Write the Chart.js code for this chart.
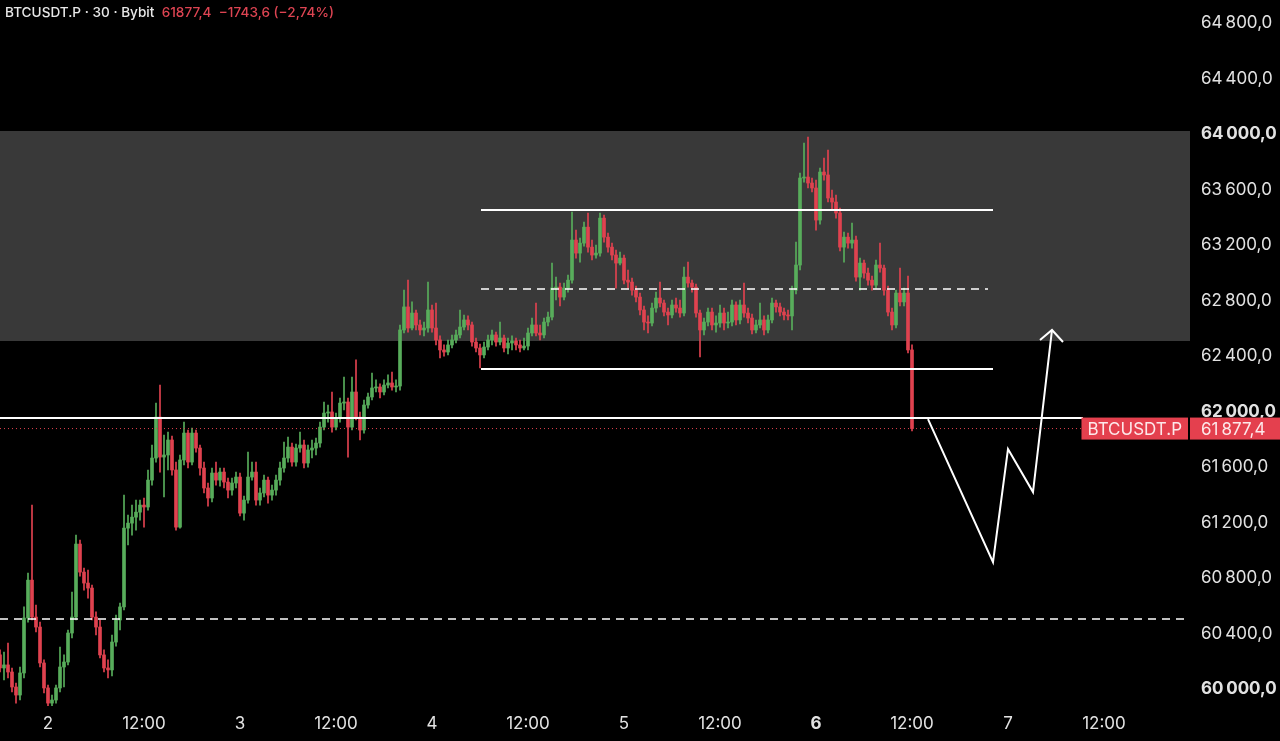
<!DOCTYPE html>
<html><head><meta charset="utf-8">
<script src="https://cdn.jsdelivr.net/npm/chart.js@4.4.1/dist/chart.umd.min.js"></script>
<style>
html,body{margin:0;padding:0;background:#000;overflow:hidden;}
#wrap{position:relative;width:1280px;height:741px;}
#hdr{position:absolute;left:5px;top:4px;font:500 13.6px Inter, "DejaVu Sans", sans-serif;color:#e8e8e8;white-space:pre;}
#hdr .r{color:#dd4452;}
</style></head><body>
<div id="wrap"><canvas id="c" width="1280" height="741"></canvas>
<div id="hdr">BTCUSDT.P · 30 · Bybit  <span class="r">61877,4  −1743,6 (−2,74%)</span></div></div>
<script>
// ---- data (30-minute candles; slot 0 = day 2, 00:00) ----
const symbol = 'BTCUSDT.P';
const firstSlot = -12;
const open = [
60246,60152,60174,60123,60015,59957,60116,60512,60785,60519,
60447,60188,60008,59899,59921,60008,60159,60195,60404,60519,
61045,60843,60764,60728,60519,60447,60246,60152,60138,60339,
60498,60592,61160,61196,61239,61275,61326,61312,61506,61665,
61960,61672,61687,61795,61579,61167,61651,61845,61636,61845,
61737,61593,61449,61377,61557,61506,61564,61492,61434,61485,
61528,61268,61362,61528,61564,61362,61413,61506,61398,61434,
61506,61593,61665,61744,61636,61737,61759,61629,61723,61737,
61773,61888,61989,61997,61888,61953,62061,62069,61888,62141,
61960,61867,62047,62105,62170,62177,62141,62191,62206,62177,
62184,62588,62754,62602,62710,62624,62588,62602,62732,62602,
62516,62444,62429,62480,62516,62552,62609,62660,62624,62501,
62458,62408,62465,62516,62552,62501,62530,62458,62494,62509,
62480,62458,62472,62566,62624,62566,62552,62645,62681,62890,
62897,62825,62890,62947,63236,63142,63214,63329,63185,63128,
63142,63394,63257,63185,63128,63070,63106,62947,62933,62875,
62825,62732,62645,62638,62746,62818,62782,62717,62696,62768,
62746,62710,62969,62926,62897,62710,62588,62645,62717,62624,
62638,62710,62638,62645,62768,62660,62768,62710,62674,62588,
62624,62660,62588,62660,62782,62754,62717,62696,62689,62875,
63056,63683,63690,63647,63611,63380,63726,63705,63539,63510,
63431,63185,63257,63214,63236,62969,63070,62998,62947,62911,
63056,63034,62875,62717,62624,62854,62790,62854,62444];
const high = [
60282,60267,60332,60152,60044,60159,60592,60836,61326,60606,
60483,60210,60029,59957,60029,60303,60246,60426,60699,61110,
61074,60872,60858,60749,60556,60498,60282,60210,60390,60534,
60620,61398,61254,61326,61362,61362,61377,61579,61759,62061,
62191,61831,61852,61824,61636,61687,61924,61867,61881,61867,
61759,61636,61485,61593,61636,61593,61593,61521,61521,61564,
61557,61391,61708,61636,61636,61449,61542,61528,61470,61542,
61636,61780,61816,61773,61766,61852,61795,61759,61795,61809,
61924,62069,62047,62141,61989,62098,62249,62098,62249,62372,
61997,62083,62134,62278,62228,62199,62228,62264,62285,62228,
62624,62875,62947,62790,62732,62660,62645,62933,62768,62782,
62545,62480,62516,62552,62588,62732,62696,62689,62645,62530,
62487,62501,62552,62588,62573,62645,62552,62530,62545,62530,
62516,62530,62602,62674,62782,62624,62674,62717,63070,62969,
62926,62926,62984,63438,63308,63250,63365,63430,63236,63200,
63430,63416,63286,63214,63164,63149,63128,63020,62962,62904,
62854,62761,62689,62782,62861,62933,62804,62746,62804,62818,
62804,63041,63077,62947,62919,62732,62674,62746,62746,62689,
62768,62746,62717,62804,62790,62804,62926,62746,62703,62660,
62782,62689,62696,62818,62804,62782,62746,62732,62904,63221,
63719,63935,63978,63683,63668,63755,63827,63885,63596,63560,
63466,63293,63286,63358,63265,63106,63092,63034,62976,63092,
63214,63056,62904,62746,62875,63034,62890,62976,62480];
const low = [
60123,60066,60080,59979,59899,59921,60080,60483,60498,60411,
60159,59972,59878,59878,59899,59979,60015,60174,60368,60498,
60814,60713,60656,60498,60390,60224,60123,60080,60094,60310,
60426,60570,61038,61110,61146,61218,61167,61290,61470,61636,
61564,61384,61579,61542,61146,61160,61615,61593,61615,61708,
61542,61413,61319,61348,61470,61463,61449,61377,61398,61449,
61247,61218,61340,61506,61326,61326,61384,61340,61362,61398,
61470,61564,61636,61607,61607,61708,61593,61600,61665,61687,
61744,61867,61924,61852,61867,61924,62011,61672,61867,61939,
61795,61845,62025,62083,62141,62098,62119,62170,62155,62141,
62155,62566,62573,62588,62588,62552,62545,62573,62573,62480,
62386,62400,62408,62458,62494,62530,62588,62588,62472,62429,
62314,62386,62444,62480,62472,62480,62429,62415,62444,62444,
62429,62444,62444,62545,62545,62516,62530,62617,62660,62804,
62761,62804,62861,62926,63106,63077,63192,63149,63092,63106,
63120,63221,63149,63092,62890,63056,62919,62890,62839,62790,
62696,62588,62566,62617,62717,62754,62689,62624,62674,62717,
62681,62689,62897,62861,62681,62393,62552,62617,62588,62573,
62609,62588,62602,62617,62624,62631,62681,62638,62559,62566,
62602,62552,62566,62638,62717,62689,62660,62660,62588,62847,
63020,63654,63611,63582,63308,63351,63668,63510,63452,63394,
63157,63077,63178,63178,62940,62875,62962,62911,62875,62890,
63005,62839,62689,62588,62602,62761,62761,62422,61860];
const close = [
60152,60174,60123,60015,59957,60116,60512,60785,60519,60447,
60188,60008,59899,59921,60008,60159,60195,60404,60519,61045,
60843,60764,60728,60519,60447,60246,60152,60138,60339,60498,
60592,61160,61196,61239,61275,61326,61312,61506,61665,61960,
61672,61687,61795,61579,61167,61651,61845,61636,61845,61737,
61593,61449,61377,61557,61506,61564,61492,61434,61485,61528,
61268,61362,61528,61564,61362,61413,61506,61398,61434,61506,
61593,61665,61744,61636,61737,61759,61629,61723,61737,61773,
61888,61989,61997,61888,61953,62061,62069,61888,62141,61960,
61867,62047,62105,62170,62177,62141,62191,62206,62177,62184,
62588,62754,62602,62710,62624,62588,62602,62732,62602,62516,
62444,62429,62480,62516,62552,62609,62660,62624,62501,62458,
62408,62465,62516,62552,62501,62530,62458,62494,62509,62480,
62458,62472,62566,62624,62566,62552,62645,62681,62890,62897,
62825,62890,62947,63236,63142,63214,63329,63185,63128,63142,
63394,63257,63185,63128,63070,63106,62947,62933,62875,62825,
62732,62645,62638,62746,62818,62782,62717,62696,62768,62746,
62710,62969,62926,62897,62710,62588,62645,62717,62624,62638,
62710,62638,62645,62768,62660,62768,62710,62674,62588,62624,
62660,62588,62660,62782,62754,62717,62696,62689,62875,63056,
63683,63690,63647,63611,63380,63726,63705,63539,63510,63431,
63185,63257,63214,63236,62969,63070,62998,62947,62911,63056,
63034,62875,62717,62624,62854,62790,62854,62444,61877.4];

// axis ticks (price) and time ticks (slot numbers)
const priceTicks = [60000,60400,60800,61200,61600,62000,62400,62800,63200,63600,64000,64400,64800];
const timeTicks = [0,24,48,72,96,120,144,168,192,216,240,264];
const timeLabels = ['2','12:00','3','12:00','4','12:00','5','12:00','6','12:00','7','12:00'];
const boldTime = ['6'];

// drawings: [slot, price]
const zoneTop = 64022, zoneBottom = 62509;
const rangeTop = [[108.25,63452],[236.25,63452]];
const rangeMid = [[108.25,62883],[235,62883]];
const rangeBottom = [[108.25,62307],[236.25,62307]];
const levelLine = [[-12,61953],[258.75,61953]];
const lowerDashed = [[-12,60505],[285.5,60505]];
const pathPoints = [[220,61946],[236.25,60915],[240,61730],[246.25,61420],[251,62588]];
const arrowHead = [[248,62516],[251,62588],[253.75,62501]];
const lastPrice = 61877.4;

const xMin = -12, xMax = 285.5, yMin = 59878, yMax = 64966;
const UP = '#58ad5b', DOWN = '#e0424f';
const FONT = 'Inter, "DejaVu Sans", sans-serif';

const slots = close.map((_, i) => firstSlot + i);
const cols = close.map((c, i) => c >= open[i] ? UP : DOWN);
const pts = a => a.map(p => ({x: p[0], y: p[1]}));
function fmtPrice(v){
  const neg = v < 0; v = Math.abs(v);
  const k = Math.floor(v/1000), r = v - k*1000;
  const rs = r.toFixed(1).replace('.', ',');
  return (neg?'−':'') + (k ? k + '\u2009' + rs.padStart(5,'0') : rs);
}
function lineDs(data, opts){
  return Object.assign({type:'line', data: pts(data), borderColor:'#ffffff', borderWidth:2,
    pointRadius:0, fill:false, tension:0, order:1, clip:false}, opts||{});
}
function noPad(s){ s.paddingTop = 0; s.paddingBottom = 0; s.paddingLeft = 0; s.paddingRight = 0; }

const tagPlugin = {
  id: 'tag',
  afterDraw(chart){
    const {ctx, chartArea} = chart; const y = chart.scales.y;
    const py = y.getPixelForValue(lastPrice);
    ctx.save();
    ctx.font = '17px ' + FONT;
    const w = ctx.measureText(symbol).width + 12;
    const h = 22;
    ctx.fillStyle = '#e4404e';
    ctx.fillRect(chartArea.right - 2 - w, py - h/2, w, h);
    ctx.fillRect(chartArea.right, py - h/2, chart.width - chartArea.right, h);
    ctx.fillStyle = '#fde8ea';
    ctx.textBaseline = 'middle';
    ctx.textAlign = 'center';
    ctx.fillText(symbol, chartArea.right - 2 - w/2, py + 1);
    ctx.textAlign = 'left';
    ctx.fillText(fmtPrice(lastPrice), chartArea.right + 11, py + 1);
    ctx.restore();
  }
};

new Chart(document.getElementById('c'), {
  type: 'bar',
  data: {
    datasets: [
      {type:'line', data: pts([[xMin,zoneTop],[xMax,zoneTop]]), borderWidth:0, pointRadius:0,
        fill:{value: zoneBottom}, backgroundColor:'#393939', order:10},
      {label:'wick', data: slots.map((s,i)=>({x:s, y:[low[i], high[i]]})), backgroundColor: cols,
        barThickness:1, grouped:false, order:6},
      {label:'body', data: slots.map((s,i)=>({x:s, y:[open[i], close[i]]})), backgroundColor: cols,
        barThickness:3, minBarLength:1, grouped:false, order:5},
      lineDs([[xMin,lastPrice],[258.75,lastPrice]], {borderColor:'#e0424f', borderWidth:1, borderDash:[1,3], order:3}),
      lineDs(lowerDashed, {borderWidth:1.5, borderDash:[8,6]}),
      lineDs(levelLine),
      lineDs(rangeTop),
      lineDs(rangeMid, {borderWidth:1.5, borderDash:[8,6]}),
      lineDs(rangeBottom),
      lineDs(pathPoints),
      lineDs(arrowHead)
    ]
  },
  options: {
    responsive:false, animation:false,
    layout:{padding:0},
    plugins:{legend:{display:false}, tooltip:{enabled:false}},
    scales:{
      x:{type:'linear', min:xMin, max:xMax, offset:false,
        grid:{display:false, drawTicks:false}, border:{display:false},
        afterBuildTicks: s => { s.ticks = timeTicks.map(v=>({value:v})); },
        afterFit: s => { s.height = 35; noPad(s); },
        ticks:{autoSkip:false, maxRotation:0, padding:8, color:'#e2e2e2',
          callback: (v, i) => timeLabels[timeTicks.indexOf(v)],
          font: ctx => ({family:FONT, size:17, weight: (ctx.tick && boldTime.includes(timeLabels[timeTicks.indexOf(ctx.tick.value)])) ? 'bold':'normal'})}
      },
      y:{type:'linear', position:'right', min:yMin, max:yMax,
        grid:{display:false, drawTicks:false}, border:{display:false},
        afterBuildTicks: s => { s.ticks = priceTicks.map(v=>({value:v})); },
        afterFit: s => { s.width = 90; noPad(s); },
        ticks:{padding:11, color:'#e2e2e2',
          callback: v => fmtPrice(v),
          font: ctx => ({family:FONT, size:17, weight: (ctx.tick && ctx.tick.value % 2000 === 0) ? 'bold':'normal'})}
      }
    }
  },
  plugins:[tagPlugin]
});
</script>
</body></html>
